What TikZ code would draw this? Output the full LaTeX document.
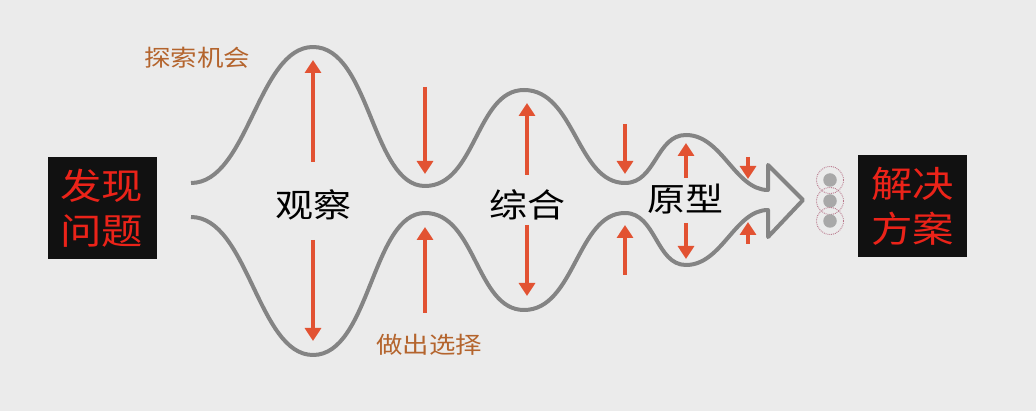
\documentclass[tikz,border=0pt]{standalone}
\usepackage{fontspec}
\setmainfont[FakeStretch=1.15]{Noto Sans CJK SC}
\usepackage{xcolor}
\usetikzlibrary{arrows.meta,positioning}
\definecolor{bggray}{RGB}{235,235,235}
\definecolor{wavegray}{RGB}{132,132,132}
\definecolor{pushred}{RGB}{226,82,50}
\definecolor{labelbrown}{RGB}{180,100,45}
\definecolor{boxred}{RGB}{235,35,25}
\definecolor{boxblack}{RGB}{17,17,17}
\definecolor{dotgray}{RGB}{168,168,168}
\definecolor{ringpink}{RGB}{185,120,140}

\begin{document}
\begin{tikzpicture}[x=1pt,y=-1pt,
  endbox/.style = {
    fill=boxblack, text=boxred, inner sep=0pt,
    minimum width=109pt, minimum height=102pt,
    align=center, font=\fontsize{36}{45}\selectfont
  },
  stage/.style = {text=black, font=\fontsize{33}{40}\selectfont},
  hint/.style  = {text=labelbrown, font=\fontsize{23}{28}\selectfont},
  wave/.style  = {wavegray, line width=4pt, line join=round},
  push/.style  = {-{Triangle[length=13pt,width=16pt]}, pushred, line width=4.5pt},
  ring/.style  = {circle, draw=ringpink, densely dotted, line width=0.9pt, minimum size=27pt, inner sep=0pt},
  pip/.style   = {circle, fill=dotgray, minimum size=13.5pt, inner sep=0pt}
]
  \fill[bggray] (0,0) rectangle (1036,411);

  % the funnel
  \draw[wave] (191,183) .. controls (248,183) and (258,47) .. (313,47)
    .. controls (370,47) and (372,186) .. (425,186)
    .. controls (476,186) and (476,90) .. (524,90)
    .. controls (575,90) and (577,183) .. (625,183)
    .. controls (656,183) and (656,135) .. (686,135)
    .. controls (722,135) and (735,190) .. (768,190)
    -- (768,165) -- (803,200) -- (768,237) -- (768,210)
    .. controls (735,210) and (722,265) .. (686,265)
    .. controls (656,265) and (656,213) .. (625,213)
    .. controls (577,213) and (575,310) .. (524,310)
    .. controls (476,310) and (476,213) .. (425,213)
    .. controls (372,213) and (370,355) .. (313,355)
    .. controls (258,355) and (248,217) .. (191,217);

  % pushes out and in
  \draw[push] (313,162) -- (313,60);
  \draw[push] (313,240) -- (313,341);
  \draw[push] (425,87)  -- (425,174);
  \draw[push] (425,313) -- (425,227);
  \draw[push] (527,175) -- (527,103);
  \draw[push] (527,225) -- (527,296);
  \draw[push] (625,124) -- (625,174);
  \draw[push] (625,275) -- (625,225);
  \draw[push] (686,178) -- (686,143);
  \draw[push] (686,223) -- (686,259);
  \draw[push] (748,157) -- (748,179);
  \draw[push] (748,244) -- (748,222);

  \node[endbox] (prob) at (102,208.5) {发现\\问题};
  \node[endbox] (sol)  at (912.5,206) {解决\\方案};

  \node[stage] (obs)   at (313,205) {观察};
  \node[stage] (syn)   at (527,205) {综合};
  \node[stage] (proto) at (685,199) {原型};

  \node[hint] (explore) at (197,58)  {探索机会};
  \node[hint] (choose)  at (429,345) {做出选择};

  \foreach \i/\y in {1/180,2/201,3/221} {
    \node[ring] (ring\i) at (830,\y) {};
    \node[pip]  (pip\i)  at (830,\y) {};
  }
\end{tikzpicture}
\end{document}
